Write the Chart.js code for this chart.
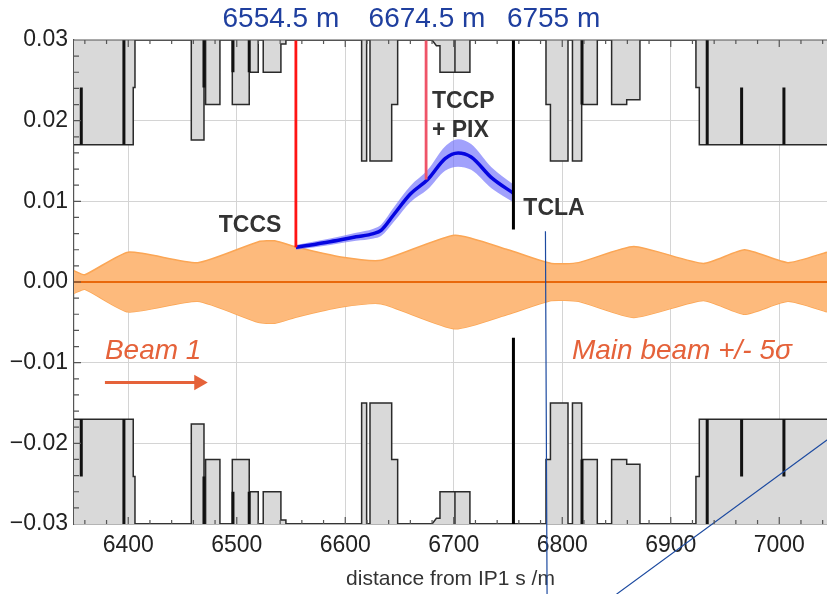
<!DOCTYPE html>
<html>
<head>
<meta charset="utf-8">
<script src="https://cdn.jsdelivr.net/npm/chart.js@4.4.1/dist/chart.umd.min.js"></script>
<style>
  html, body { margin: 0; padding: 0; background: #fff; }
  #wrap { width: 827px; height: 594px; }
</style>
</head>
<body>
<div id="wrap"><canvas id="apertureChart" width="827" height="594"></canvas></div>
<script>
// Upper aperture outline (s in m, half gap in m); lower jaw mirrors it
var apertureS = [6350, 6404.6, 6404.6, 6406.2, 6406.2,
  6458.1, 6458.1, 6469.8, 6469.8, 6471.3, 6471.3, 6484.5, 6484.5,
  6495.9, 6495.9, 6511.5, 6511.5, 6519.8, 6519.8, 6524.4, 6524.4, 6540.7, 6540.7, 6545.3, 6545.3,
  6615.1, 6615.1, 6619.7, 6619.7, 6622.8, 6622.8, 6642.8, 6642.8, 6648.3, 6648.3,
  6680, 6684, 6687.3, 6687.3, 6701.1, 6701.1, 6701.1, 6714.9, 6714.9,
  6785, 6785, 6789.1, 6789.1, 6805.3, 6805.3, 6809.4, 6809.4, 6817.9, 6817.9, 6832.3, 6832.3,
  6845.5, 6845.5, 6859.4, 6859.4, 6871.6, 6871.6,
  6923.2, 6923.2, 6926.3, 6926.3, 7044];
var apertureV = [0.0170, 0.0170, 0.0241, 0.0241, 0.0300,
  0.0300, 0.0176, 0.0176, 0.0300, 0.0300, 0.0220, 0.0220, 0.0300,
  0.0300, 0.0220, 0.0220, 0.0260, 0.0260, 0.0300, 0.0300, 0.0260, 0.0260, 0.0295, 0.0295, 0.0300,
  0.0300, 0.0150, 0.0150, 0.0300, 0.0300, 0.0150, 0.0150, 0.0220, 0.0220, 0.0300,
  0.0300, 0.0293, 0.0293, 0.0260, 0.0260, 0.0300, 0.0260, 0.0260, 0.0300,
  0.0300, 0.0220, 0.0220, 0.0150, 0.0150, 0.0300, 0.0300, 0.0150, 0.0150, 0.0220, 0.0220, 0.0300,
  0.0300, 0.0220, 0.0220, 0.0226, 0.0226, 0.0300,
  0.0300, 0.0241, 0.0241, 0.0170, 0.0170];

// element boundaries drawn heavier
var boundaryS  = [6356.7, 6396, 6469.8, 6496.5, 6511.5, 6818.2, 6933.6, 6965.3, 7004.3];
var boundaryLo = [0.0170, 0.0170, 0.0241, 0.0260, 0.0260, 0.0220, 0.0170, 0.0170, 0.0170];
var boundaryHi = [0.0241, 0.0300, 0.0300, 0.0300, 0.0300, 0.0300, 0.0300, 0.0241, 0.0241];

// main beam 5 sigma envelope
var envelopeS = [6350, 6360, 6400, 6464, 6520, 6535, 6556, 6596, 6633, 6701, 6750, 6790, 6815, 6866, 6930, 6968, 7008, 7044];
var envelopeV = [0.0014, 0.0009, 0.0037, 0.0024, 0.0050, 0.0051, 0.0043, 0.0031, 0.0027, 0.0058, 0.0040, 0.0023, 0.0024, 0.0044, 0.0023, 0.0040, 0.0024, 0.0037];

// channeled beam
var channelS     = [6554.5, 6586, 6610, 6626, 6633, 6645, 6660, 6676, 6692, 6704, 6716, 6735, 6755];
var channelV     = [0.0043, 0.0050, 0.0056, 0.0060, 0.0064, 0.0084, 0.0109, 0.0127, 0.0153, 0.0160, 0.0155, 0.0129, 0.0110];
var channelUpper = [0.0046, 0.0054, 0.0061, 0.0066, 0.0071, 0.0093, 0.0119, 0.0139, 0.0168, 0.0177, 0.0171, 0.0142, 0.0121];
var channelLower = [0.0040, 0.0046, 0.0051, 0.0054, 0.0057, 0.0075, 0.0099, 0.0115, 0.0138, 0.0143, 0.0139, 0.0116, 0.0099];

// collimators: TCCS, TCCP, TCLA
var collS   = [6554.5, 6674.5, 6755];
var collLow = [0.0043, 0.0127, 0.0065];
var tclaLowerJaw = -0.0069;

var xTicks = [6400, 6500, 6600, 6700, 6800, 6900, 7000];
var yTicks = [-0.03, -0.02, -0.01, 0, 0.01, 0.02, 0.03];

var FONT = 'Liberation Sans, Arial, sans-serif';

function pts(xs, ys) {
  return xs.map(function (x, i) { return { x: x, y: ys[i] }; });
}
function segs(xs, lo, hi, sign) {
  var out = [];
  xs.forEach(function (x, i) {
    out.push({ x: x, y: sign * lo[i] }, { x: x, y: sign * hi[i] }, { x: x, y: null });
  });
  return out;
}
function mirror(ys) { return ys.map(function (v) { return -v; }); }

var lineBase = { type: 'line', pointRadius: 0, tension: 0, fill: false, spanGaps: false };

function ds(extra) { return Object.assign({}, lineBase, extra); }

var datasets = [
  ds({ data: pts(apertureS, apertureV), borderColor: '#2a2a2a', borderWidth: 1.5, backgroundColor: '#d9d9d9', fill: 'end', order: 20 }),
  ds({ data: pts(apertureS, mirror(apertureV)), borderColor: '#2a2a2a', borderWidth: 1.5, backgroundColor: '#d9d9d9', fill: 'start', order: 20 }),
  ds({ data: segs(boundaryS, boundaryLo, boundaryHi, 1), borderColor: '#111', borderWidth: 3, order: 19 }),
  ds({ data: segs(boundaryS, boundaryLo, boundaryHi, -1), borderColor: '#111', borderWidth: 3, order: 19 }),
  ds({ data: pts(envelopeS, envelopeV), borderColor: '#fba655', borderWidth: 1.5, backgroundColor: '#fdba7c', fill: '+1', tension: 0.18, order: 15 }),
  ds({ data: pts(envelopeS, mirror(envelopeV)), borderColor: '#fba655', borderWidth: 1.5, tension: 0.18, order: 15 }),
  ds({ data: [{ x: 6350, y: 0 }, { x: 7044, y: 0 }], borderColor: '#e8680c', borderWidth: 2, order: 14 }),
  ds({ data: pts(channelS, channelUpper), borderColor: 'rgba(110,110,250,0.65)', borderWidth: 0, backgroundColor: 'rgba(110,110,250,0.65)', fill: '+1', cubicInterpolationMode: 'monotone', order: 12 }),
  ds({ data: pts(channelS, channelLower), borderColor: 'rgba(110,110,250,0.65)', borderWidth: 0, cubicInterpolationMode: 'monotone', order: 12 }),
  ds({ data: pts(channelS, channelV), borderColor: '#0505e0', borderWidth: 3.5, cubicInterpolationMode: 'monotone', order: 11 }),
  ds({ data: [{ x: collS[0], y: collLow[0] }, { x: collS[0], y: 0.03 }], borderColor: '#ff1414', borderWidth: 2.8, order: 10 }),
  ds({ data: [{ x: collS[1], y: collLow[1] }, { x: collS[1], y: 0.03 }], borderColor: '#ef5468', borderWidth: 2.8, order: 10 }),
  ds({ data: [{ x: collS[2], y: collLow[2] }, { x: collS[2], y: 0.03 }, { x: collS[2], y: null },
              { x: collS[2], y: tclaLowerJaw }, { x: collS[2], y: -0.03 }], borderColor: '#000', borderWidth: 3, order: 10 }),
  // beam direction arrow
  ds({ data: [{ x: 6378.5, y: -0.01245 }, { x: 6465, y: -0.01245 }], borderColor: '#e5623a', borderWidth: 3,
       pointRadius: [0, 9], pointStyle: 'triangle', pointRotation: 90, pointBackgroundColor: '#e5623a', pointBorderWidth: 0, order: 9 }),
  // overlay guide lines
  ds({ data: [{ x: 6784.5, y: 0.0063 }, { x: 6786, y: -0.0388 }, { x: 6786, y: null },
              { x: 6850, y: -0.0387 }, { x: 7060, y: -0.0180 }], borderColor: '#1c4aa0', borderWidth: 1.2, clip: false, order: 1 })
];

// inward frame ticks + top border
var frameTicks = {
  id: 'frameTicks',
  afterDatasetsDraw: function (chart) {
    var ctx = chart.ctx, a = chart.chartArea;
    var xs = chart.scales.x, ys = chart.scales.y;
    ctx.save();
    ctx.strokeStyle = '#555';
    ctx.lineWidth = 1.2;
    ctx.beginPath();
    ctx.moveTo(a.left, a.top); ctx.lineTo(a.right, a.top);
    for (var s = 6360; s <= 7040; s += 20) {
      var px = xs.getPixelForValue(s);
      var len = (s % 100 === 0) ? 7 : 4;
      ctx.moveTo(px, a.top); ctx.lineTo(px, a.top + len);
      ctx.moveTo(px, a.bottom); ctx.lineTo(px, a.bottom - len);
    }
    for (var k = -14; k <= 14; k++) {
      var py = ys.getPixelForValue(k * 0.002);
      var l2 = (k % 5 === 0) ? 7 : 5;
      ctx.moveTo(a.left, py); ctx.lineTo(a.left + l2, py);
    }
    ctx.stroke();
    ctx.restore();
  }
};

// text annotations
var labels = [
  { t: 'TCCS', s: 6512.3, v: 0.00615, align: 'center', font: 'bold 23px ' + FONT, color: '#333' },
  { t: 'TCCP', s: 6679.9, v: 0.02151, align: 'left', font: 'bold 23px ' + FONT, color: '#333' },
  { t: '+ PIX', s: 6679.9, v: 0.0180, align: 'left', font: 'bold 23px ' + FONT, color: '#333' },
  { t: 'TCLA', s: 6792.4, v: 0.00826, align: 'center', font: 'bold 23px ' + FONT, color: '#333' },
  { t: 'Beam 1', s: 6378.5, v: -0.0095, align: 'left', font: 'italic 28px ' + FONT, color: '#e5623a' },
  { t: 'Main beam +/- 5\u03c3', s: 6808.9, v: -0.0095, align: 'left', font: 'italic 28px ' + FONT, color: '#e5623a' }
];
var topLabels = [
  { t: '6554.5 m', s: 6540.7 },
  { t: '6674.5 m', s: 6675.3 },
  { t: '6755 m', s: 6792 }
];

var textPlugin = {
  id: 'textPlugin',
  afterDraw: function (chart) {
    var ctx = chart.ctx, xs = chart.scales.x, ys = chart.scales.y;
    ctx.save();
    ctx.textBaseline = 'alphabetic';
    labels.forEach(function (l) {
      ctx.font = l.font;
      ctx.fillStyle = l.color;
      ctx.textAlign = l.align;
      ctx.fillText(l.t, xs.getPixelForValue(l.s), ys.getPixelForValue(l.v));
    });
    ctx.font = '28px ' + FONT;
    ctx.fillStyle = '#1f3f9f';
    ctx.textAlign = 'center';
    topLabels.forEach(function (l) {
      ctx.fillText(l.t, xs.getPixelForValue(l.s), chart.chartArea.top - 13);
    });
    ctx.restore();
  }
};

new Chart(document.getElementById('apertureChart').getContext('2d'), {
  type: 'line',
  data: { datasets: datasets },
  options: {
    responsive: false,
    animation: false,
    events: [],
    layout: { autoPadding: false, padding: { top: 40, left: 0, right: 0, bottom: 0 } },
    plugins: { legend: { display: false }, tooltip: { enabled: false } },
    scales: {
      x: {
        type: 'linear', min: 6350, max: 7044,
        afterFit: function (s) { s.height = 70; s.paddingLeft = 0; s.paddingRight = 0; },
        afterBuildTicks: function (s) { s.ticks = xTicks.map(function (v) { return { value: v }; }); },
        ticks: { font: { size: 23, family: FONT }, color: '#222', padding: 8, maxRotation: 0,
                 callback: function (v) { return String(v); } },
        grid: { color: '#d4d4d4', lineWidth: 1, drawTicks: false },
        border: { display: true, color: '#555', width: 1.2 },
        title: { display: true, text: 'distance from IP1 s /m', color: '#333',
                 font: { size: 21, family: FONT }, padding: { top: 0, bottom: 2 } }
      },
      y: {
        type: 'linear', min: -0.03, max: 0.03,
        afterFit: function (s) { s.width = 74; s.paddingTop = 0; s.paddingBottom = 0; },
        afterBuildTicks: function (s) { s.ticks = yTicks.map(function (v) { return { value: v }; }); },
        ticks: { font: { size: 23, family: FONT }, color: '#222', padding: 6,
                 callback: function (v) { return v.toFixed(2).replace('-', '\u2212'); } },
        grid: { color: '#d4d4d4', lineWidth: 1, drawTicks: false },
        border: { display: true, color: '#555', width: 1.2 }
      }
    }
  },
  plugins: [frameTicks, textPlugin]
});
</script>
</body>
</html>
